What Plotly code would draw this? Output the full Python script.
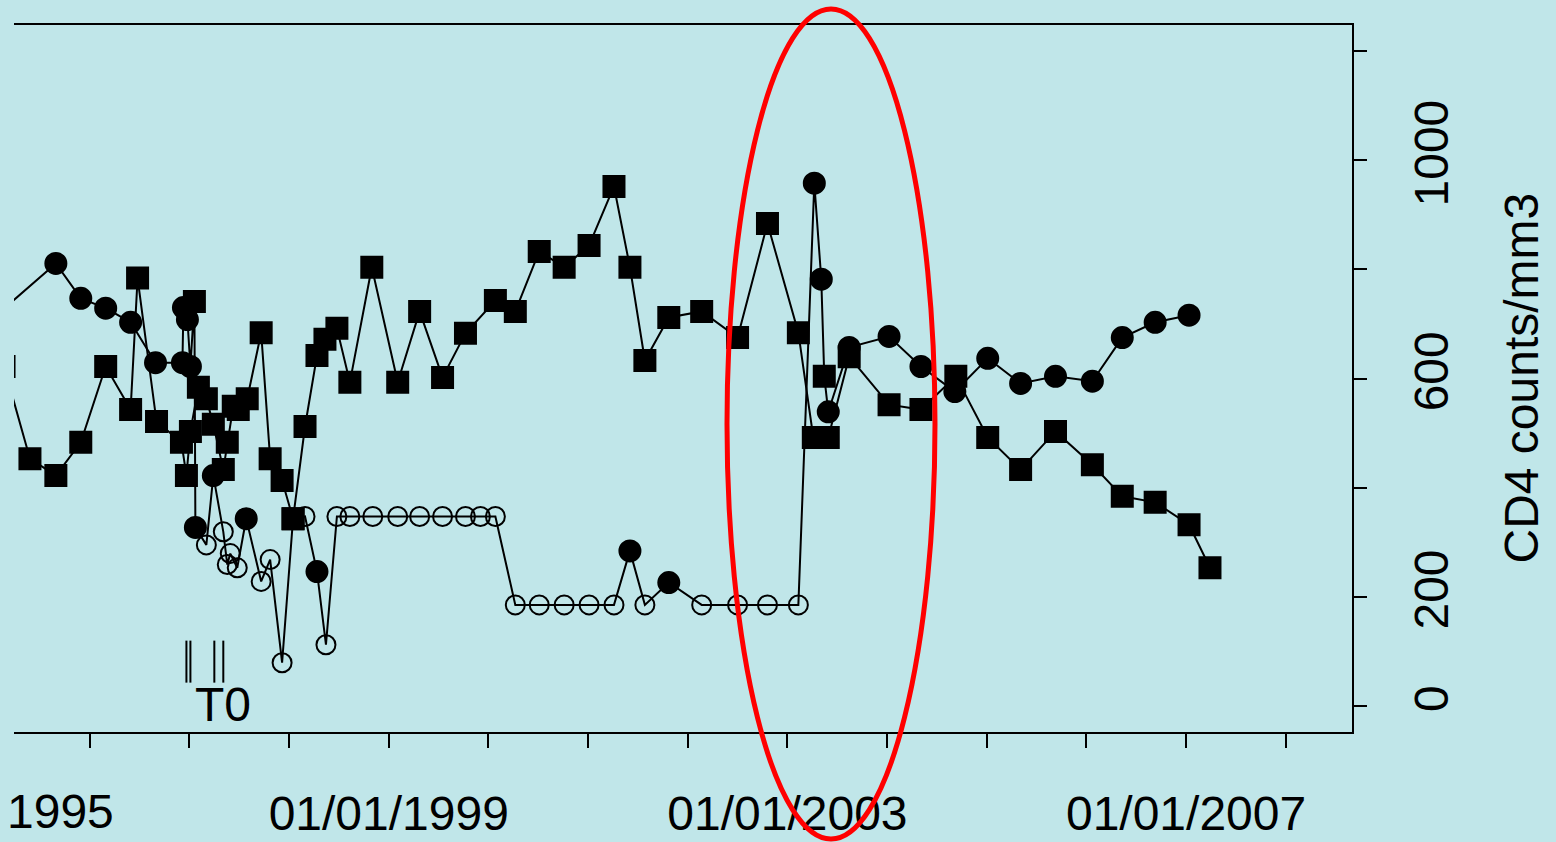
import plotly.graph_objects as go

# ---------------- data ----------------
# symbols: s = filled square, c = filled circle, o = open circle
pat_a_year = [1995.14, 1995.40, 1995.66, 1995.91, 1996.16, 1996.41, 1996.48, 1996.67,
              1996.92, 1996.97, 1997.01, 1997.09, 1997.17, 1997.24, 1997.34, 1997.38,
              1997.44, 1997.49, 1997.58, 1997.72, 1997.81, 1997.93, 1998.04, 1998.16,
              1998.28, 1998.36, 1998.48, 1998.61, 1998.83, 1999.09, 1999.31, 1999.54,
              1999.77, 2000.07, 2000.27, 2000.51, 2000.76, 2001.01, 2001.26, 2001.42,
              2001.57, 2001.81, 2002.14, 2002.50, 2002.80, 2003.11, 2003.26, 2003.41,
              2003.62, 2004.02, 2004.34, 2004.69, 2005.01, 2005.34, 2005.69, 2006.06,
              2006.36, 2006.69, 2007.03, 2007.24]
pat_a_cd4 = [622, 453, 422, 483, 622, 543, 784, 521,
             483, 422, 503, 584, 563, 516, 433, 483,
             549, 543, 563, 684, 453, 413, 343, 512,
             642, 672, 692, 593, 804, 593, 723, 602,
             683, 743, 723, 833, 804, 844, 952, 804,
             633, 712, 723, 675, 884, 684, 492, 492,
             640, 552, 543, 604, 492, 433, 503, 442,
             384, 373, 332, 253]
pat_a_sym = list("s" * 60)

pat_b_year = [1995.00, 1995.66, 1995.91, 1996.16, 1996.41, 1996.66, 1996.93, 1996.94,
              1996.98, 1997.01, 1997.05, 1997.06, 1997.17, 1997.24, 1997.34, 1997.38,
              1997.41, 1997.48, 1997.57, 1997.72, 1997.81, 1997.93, 1998.04, 1998.16,
              1998.28, 1998.37, 1998.48, 1998.61, 1998.84, 1999.09, 1999.31, 1999.54,
              1999.77, 1999.92, 2000.07, 2000.27, 2000.51, 2000.76, 2001.01, 2001.26,
              2001.42, 2001.57, 2001.81, 2002.14, 2002.50, 2002.80, 2003.11, 2003.27,
              2003.34, 2003.37, 2003.41, 2003.62, 2004.02, 2004.34, 2004.68, 2005.01,
              2005.34, 2005.69, 2006.06, 2006.36, 2006.69, 2007.03]
pat_b_cd4 = [706, 811, 747, 729, 703, 629, 629, 730,
             708, 622, 741, 327, 295, 422, 319, 259,
             279, 253, 343, 228, 268, 79, 343, 347,
             246, 112, 347, 347, 347, 347, 347, 347,
             347, 347, 347, 185, 185, 185, 185, 185,
             284, 185, 226, 185, 185, 185, 185, 958,
             782, 604, 539, 657, 677, 622, 576, 637,
             591, 604, 595, 675, 703, 716]
pat_b_sym = list("cccccccc" "ccscocoo" "oocoooso" "cooooooo" "oooooooo"
                 "cocooooc" "cscccccc" "cccccc")

t0_year = [1996.97, 1997.01, 1997.25, 1997.34]
t0_level = [81, 81, 81, 81]

year_ticks = list(range(1996, 2009))
year_labels = ["" if y not in (1999, 2003, 2007) else "01/01/%d" % y for y in year_ticks]
cd4_ticks = [0, 200, 400, 600, 800, 1000, 1200]
cd4_labels = ["0", "200", "", "600", "", "1000", ""]

# ---------------- styling ----------------
BG = "#c0e6e9"
FONT = "Liberation Sans, Arial, sans-serif"
FS = 48
SYM = {"s": "square", "c": "circle", "o": "circle-open"}
SIZE = {"s": 21, "c": 21, "o": 19}

fig = go.Figure()
for yrs, vals, syms in [(pat_a_year, pat_a_cd4, pat_a_sym), (pat_b_year, pat_b_cd4, pat_b_sym)]:
    fig.add_trace(go.Scatter(
        x=yrs, y=vals, mode="lines+markers",
        line=dict(color="black", width=2),
        marker=dict(symbol=[SYM[s] for s in syms], size=[SIZE[s] for s in syms],
                    color="black", opacity=1, line=dict(color="black", width=2)),
        showlegend=False, hoverinfo="skip"))

fig.add_trace(go.Scatter(
    x=t0_year, y=t0_level, mode="markers",
    marker=dict(symbol="line-ns", size=30, opacity=1, line=dict(color="black", width=2)),
    showlegend=False, hoverinfo="skip"))

# plot area in pixels: x 14..1352, y 25..732
L, R, T, B = 14, 1352, 25, 732
W, H = 1556, 842
def px(xp):
    return (xp - L) / (R - L)
def py(yp):
    return (B - yp) / (B - T)

fig.add_annotation(x=1997.34, y=2, xref="x", yref="y", text="T0", showarrow=False,
                   font=dict(size=FS, color="black", family=FONT), xanchor="center", yanchor="middle")
fig.add_annotation(x=px(116), y=py(812), xref="paper", yref="paper", text="1995", showarrow=False,
                   font=dict(size=FS, color="black", family=FONT), xanchor="right", yanchor="middle")
fig.add_annotation(x=px(1521), y=0.5, xref="paper", yref="paper", text="CD4 counts/mm3",
                   showarrow=False, textangle=-90,
                   font=dict(size=FS, color="black", family=FONT), xanchor="center", yanchor="middle")

fig.add_shape(type="circle", xref="paper", yref="paper",
              x0=px(727), x1=px(935), y0=py(839), y1=py(9),
              line=dict(color="#ff0000", width=5))

fig.update_layout(
    width=W, height=H, autosize=False,
    margin=dict(l=L, r=W - R, t=T, b=H - B, pad=0, autoexpand=False),
    paper_bgcolor=BG, plot_bgcolor=BG,
    font=dict(family=FONT, color="black", size=FS),
    xaxis=dict(range=[1995.24, 2008.665], tickmode="array", tickvals=year_ticks,
               ticktext=year_labels, showline=True, linecolor="black", linewidth=2,
               mirror=True, ticks="outside", ticklen=14, tickwidth=2, tickcolor="black",
               showgrid=False, zeroline=False, tickfont=dict(size=FS), tickangle=0,
               ticklabelstandoff=24, automargin=False),
    yaxis=dict(range=[-48, 1248], side="right", tickmode="array", tickvals=cd4_ticks,
               ticktext=cd4_labels, tickangle=-90, showline=True, linecolor="black",
               linewidth=2, ticks="outside", ticklen=13, tickwidth=2, tickcolor="black",
               showgrid=False, zeroline=False, tickfont=dict(size=FS),
               ticklabelstandoff=23, automargin=False),
)

fig.write_html("out.html", config={"displayModeBar": False},
               post_script="document.body.style.margin='0';"
               "document.body.style.overflow='hidden';")
